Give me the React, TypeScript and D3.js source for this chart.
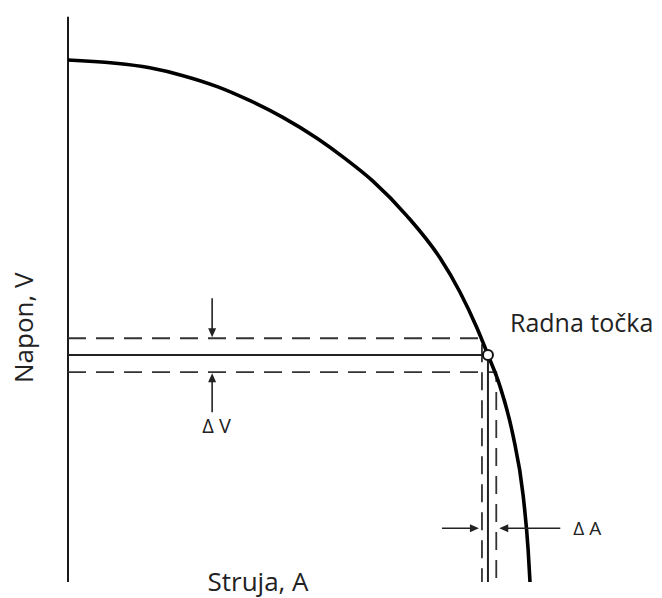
import React from 'react';
import * as d3 from 'd3';

// I-V curve (current in % of Isc, voltage in % of Voc)
const current = [0, 17.7, 24.9, 32.3, 39.4, 46.5, 53.9, 60.0, 66.0, 73.4, 80.5, 84.8, 88.5, 90.9, 93.5, 96.3, 98.5, 99.6, 100];
const voltage = [100, 98.5, 97.0, 94.9, 92.2, 89.0, 85.0, 81.1, 76.8, 70.1, 62.1, 55.6, 48.7, 43.5, 37.5, 28.2, 16.7, 6.1, 0];

// operating point and its small deviations
const opPoint = { i: 90.9, v: 43.5 };
const bandV = [40.2, 46.7];
const bandI = [89.6, 92.7];

const labels = {
  x: 'Struja, A',
  y: 'Napon, V',
  point: 'Radna točka',
  dV: 'Δ V',
  dA: 'Δ A',
};

const W = 662;
const H = 598;
const FONT = '"Open Sans", "Noto Sans", sans-serif';

const App = () => {
  const x = d3.scaleLinear().domain([0, 100]).range([68, 530]);
  const y = d3.scaleLinear().domain([0, 100]).range([582, 60]);

  const pts = current.map((c, k) => [c, voltage[k]] as [number, number]);
  const line = d3.line<[number, number]>()
    .x(d => x(d[0]))
    .y(d => y(d[1]))
    .curve(d3.curveMonotoneX);

  const yTop = y(108.3);
  const yBot = y(0);
  const dash = '18 10';

  // annotation anchors (data units)
  const arrowI = 31.2;
  const arrowV = 10.3;
  const arrowLen = 40;

  const arrowHead = (tx: number, ty: number, dir: 'up' | 'down' | 'left' | 'right') => {
    const l = 9, w = 4;
    let p = '';
    if (dir === 'down') p = `${tx},${ty} ${tx - w},${ty - l} ${tx + w},${ty - l}`;
    if (dir === 'up') p = `${tx},${ty} ${tx - w},${ty + l} ${tx + w},${ty + l}`;
    if (dir === 'right') p = `${tx},${ty} ${tx - l},${ty - w} ${tx - l},${ty + w}`;
    if (dir === 'left') p = `${tx},${ty} ${tx + l},${ty - w} ${tx + l},${ty + w}`;
    return <polygon points={p} fill="#222" />;
  };

  const ax = x(arrowI);
  const ay = y(arrowV);

  return (
    <svg width={W} height={H} style={{ position: 'absolute', left: 0, top: 0, background: '#fff' }}>
      {/* y axis */}
      <line x1={x(0)} x2={x(0)} y1={yTop} y2={yBot} stroke="#1a1a1a" strokeWidth={2} />

      {/* dashed band lines */}
      <g stroke="#333" strokeWidth={1.8} fill="none" strokeDasharray={dash}>
        <polyline points={`${x(0)},${y(bandV[1])} ${x(bandI[0])},${y(bandV[1])} ${x(bandI[0])},${yBot}`} />
        <polyline points={`${x(0)},${y(bandV[0])} ${x(bandI[1])},${y(bandV[0])} ${x(bandI[1])},${yBot}`} />
      </g>

      {/* solid lines to the operating point */}
      <polyline
        points={`${x(0)},${y(opPoint.v)} ${x(opPoint.i)},${y(opPoint.v)} ${x(opPoint.i)},${yBot}`}
        stroke="#222" strokeWidth={2} fill="none"
      />

      {/* I-V curve */}
      <path d={line(pts) || ''} stroke="#000" strokeWidth={3.6} fill="none" />

      <circle cx={x(opPoint.i)} cy={y(opPoint.v)} r={5} fill="#fff" stroke="#111" strokeWidth={2} />

      {/* ΔV and ΔA arrows */}
      <g stroke="#222" strokeWidth={1.6}>
        <line x1={ax} x2={ax} y1={y(bandV[1]) - arrowLen} y2={y(bandV[1]) - 6} />
        <line x1={ax} x2={ax} y1={y(bandV[0]) + arrowLen} y2={y(bandV[0]) + 6} />
        <line x1={x(bandI[0]) - arrowLen} x2={x(bandI[0]) - 8} y1={ay} y2={ay} />
        <line x1={x(bandI[1]) + 64} x2={x(bandI[1]) + 8} y1={ay} y2={ay} />
      </g>
      {arrowHead(ax, y(bandV[1]) - 1, 'down')}
      {arrowHead(ax, y(bandV[0]) + 1, 'up')}
      {arrowHead(x(bandI[0]) - 3, ay, 'right')}
      {arrowHead(x(bandI[1]) + 3, ay, 'left')}

      <g fontFamily={FONT} fill="#222">
        <text x={ax - 10} y={y(bandV[0]) + 61} fontSize={20}>{labels.dV}</text>
        <text x={x(bandI[1]) + 77} y={ay + 7} fontSize={19}>{labels.dA}</text>
        <text x={510} y={y(opPoint.v) - 23} fontSize={25}>{labels.point}</text>
        <text x={258} y={591} fontSize={26} textAnchor="middle">{labels.x}</text>
        <text transform={`translate(33,${y(48.7)}) rotate(-90)`} fontSize={26} textAnchor="middle">{labels.y}</text>
      </g>
    </svg>
  );
};

export default App;
